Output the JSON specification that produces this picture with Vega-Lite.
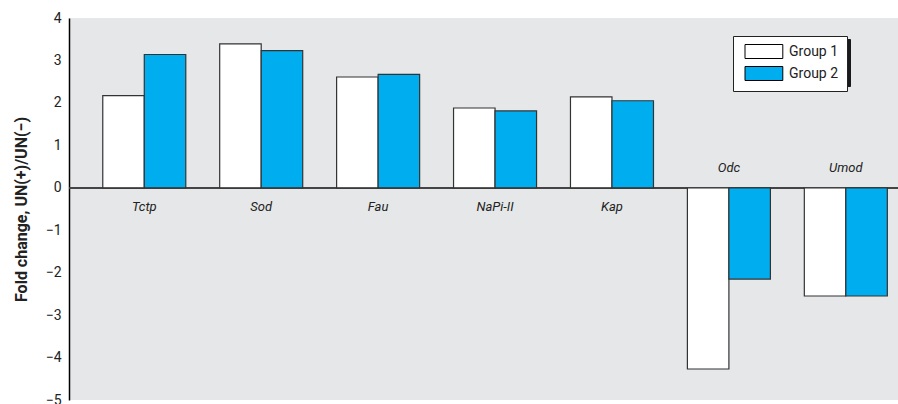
{
  "$schema": "https://vega.github.io/schema/vega-lite/v6.json",
  "width": 829,
  "height": 382,
  "autosize": {"type": "none"},
  "padding": {"left": 69, "top": 18, "right": 0, "bottom": 4},
  "background": "white",
  "config": {"view": {"fill": "#e6e7e8", "stroke": null}, "font": "Roboto"},
  "data": {"values": [
    {"gene": "Tctp", "group": "Group 1", "value": 2.17},
    {"gene": "Tctp", "group": "Group 2", "value": 3.14},
    {"gene": "Sod", "group": "Group 1", "value": 3.39},
    {"gene": "Sod", "group": "Group 2", "value": 3.23},
    {"gene": "Fau", "group": "Group 1", "value": 2.61},
    {"gene": "Fau", "group": "Group 2", "value": 2.67},
    {"gene": "NaPi-II", "group": "Group 1", "value": 1.88},
    {"gene": "NaPi-II", "group": "Group 2", "value": 1.81},
    {"gene": "Kap", "group": "Group 1", "value": 2.14},
    {"gene": "Kap", "group": "Group 2", "value": 2.05},
    {"gene": "Odc", "group": "Group 1", "value": -4.27},
    {"gene": "Odc", "group": "Group 2", "value": -2.15},
    {"gene": "Umod", "group": "Group 1", "value": -2.55},
    {"gene": "Umod", "group": "Group 2", "value": -2.55}
  ]},
  "resolve": {"scale": {"color": "independent"}, "legend": {"color": "independent"}},
  "layer": [
    {
      "mark": {"type": "rule", "strokeWidth": 1.5},
      "encoding": {
        "y": {"datum": 0},
        "color": {"field": "group", "type": "nominal",
                  "scale": {"domain": ["Group 1", "Group 2"], "range": ["#444444", "#444444"]},
                  "legend": {"orient": "none", "legendX": 668, "legendY": 21, "title": null,
                             "fillColor": "#1a1a1a", "strokeColor": "#1a1a1a", "padding": 8,
                             "symbolType": "M-0.5,-1H4.9V1H-0.5Z", "symbolSize": 196,
                             "symbolOpacity": 0, "symbolStrokeWidth": 0,
                             "labelFontSize": 14, "labelFont": "Roboto", "labelColor": "#1a1a1a", "labelOpacity": 0,
                             "rowPadding": 3, "labelOffset": 33}}
      }
    },
    {
      "mark": {"type": "bar", "stroke": "#333333", "strokeWidth": 1.2},
      "encoding": {
        "x": {"field": "gene", "type": "nominal", "sort": null,
              "scale": {"paddingInner": 0.29, "paddingOuter": 0.19, "align": 0.76}, "axis": null},
        "xOffset": {"field": "group", "type": "nominal", "scale": {"paddingInner": 0, "paddingOuter": 0}},
        "y": {"field": "value", "type": "quantitative",
              "scale": {"domain": [-5, 4], "nice": false},
              "axis": {"title": "Fold change, UN(+)/UN(−)", "values": [-5, -4, -3, -2, -1, 0, 1, 2, 3, 4],
                       "ticks": false, "labelPadding": 8, "labelFontSize": 14, "labelColor": "#222222",
                       "labelFont": "Roboto", "labelFlush": false,
                       "titleFont": "Roboto", "titleFontSize": 16, "titleFontWeight": "bold",
                       "titleColor": "#222222", "titlePadding": 16,
                       "domainColor": "#000000", "domainWidth": 1.5,
                       "gridColor": "#ffffff", "gridWidth": 1.5}},
        "color": {"field": "group", "type": "nominal",
                  "scale": {"domain": ["Group 1", "Group 2"], "range": ["#ffffff", "#00aeef"]},
                  "legend": {"orient": "none", "legendX": 664, "legendY": 18, "title": null,
                             "fillColor": "#ffffff", "strokeColor": "#222222", "padding": 8,
                             "symbolType": "M-0.5,-1H4.9V1H-0.5Z", "symbolSize": 196,
                             "symbolStrokeColor": "#000000", "symbolStrokeWidth": 1, "symbolOpacity": 1,
                             "labelFontSize": 14, "labelFont": "Roboto", "labelColor": "#222222",
                             "rowPadding": 3, "labelOffset": 33}}
      }
    },
    {
      "transform": [{"filter": "datum.group === 'Group 1' && datum.value > 0"}],
      "mark": {"type": "text", "dy": 19, "fontStyle": "italic", "fontSize": 13, "color": "#222222", "font": "Roboto"},
      "encoding": {
        "x": {"field": "gene", "type": "nominal", "sort": null},
        "y": {"datum": 0},
        "text": {"field": "gene"}
      }
    },
    {
      "transform": [{"filter": "datum.group === 'Group 1' && datum.value < 0"}],
      "mark": {"type": "text", "dy": -20, "fontStyle": "italic", "fontSize": 13, "color": "#222222", "font": "Roboto"},
      "encoding": {
        "x": {"field": "gene", "type": "nominal", "sort": null},
        "y": {"datum": 0},
        "text": {"field": "gene"}
      }
    }
  ]
}
